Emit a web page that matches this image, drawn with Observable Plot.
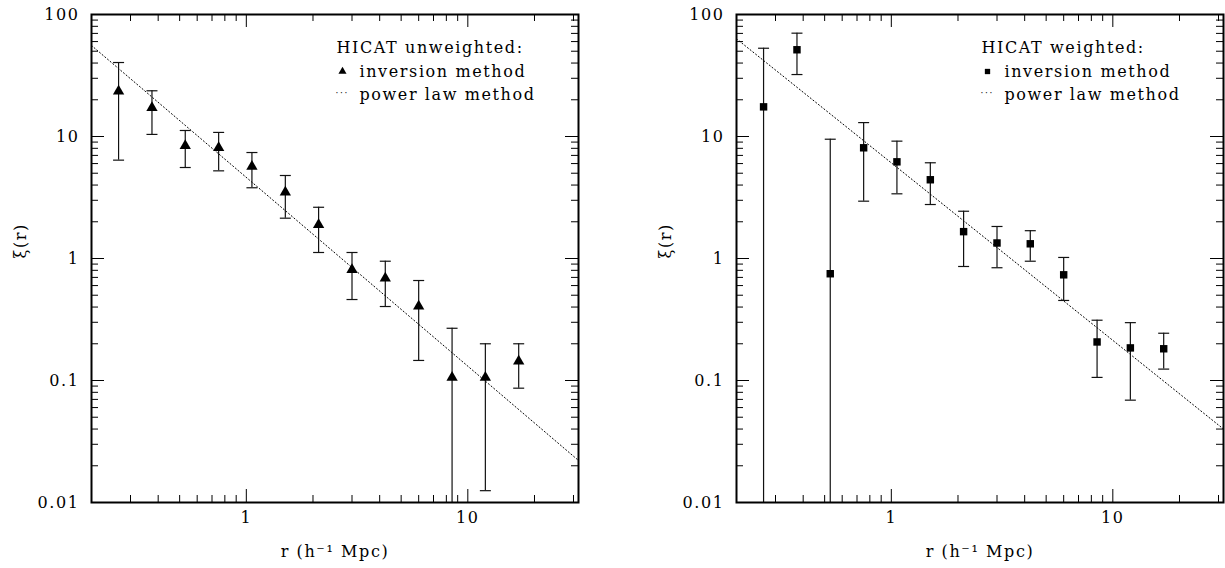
<!DOCTYPE html>
<html><head><meta charset="utf-8">
<script src="https://cdn.jsdelivr.net/npm/d3@7"></script>
<script src="https://cdn.jsdelivr.net/npm/@observablehq/plot@0.6"></script>
<style>
body{margin:0;background:#fff;}
#wrap{display:flex;width:1225px;height:568px;overflow:hidden;}
#wrap svg{display:block;}
</style></head><body><div id="wrap"></div>
<script>
// separation r (h^-1 Mpc)
const r = [0.265, 0.375, 0.53, 0.75, 1.06, 1.5, 2.12, 3.0, 4.24, 6.0, 8.49, 12.0, 16.97];

// HICAT unweighted (inversion method)
const xiUnw = [23.5, 17.2, 8.4, 8.1, 5.68, 3.49, 1.89, 0.808, 0.69, 0.406, 0.106, 0.106, 0.144];
const hiUnw = [40.4, 23.7, 11.2, 10.8, 7.39, 4.79, 2.63, 1.12, 0.95, 0.66, 0.268, 0.2, 0.2];
const loUnw = [6.4, 10.4, 5.57, 5.23, 3.8, 2.14, 1.12, 0.461, 0.404, 0.146, 0.001, 0.0125, 0.0865];

// HICAT weighted (inversion method)
const xiW = [17.5, 51.4, 0.75, 8.08, 6.2, 4.42, 1.66, 1.34, 1.32, 0.735, 0.207, 0.185, 0.182];
const hiW = [52.9, 70.3, 9.5, 13.0, 9.16, 6.09, 2.44, 1.83, 1.69, 1.02, 0.312, 0.298, 0.244];
const loW = [0.001, 32.2, 0.001, 2.95, 3.39, 2.77, 0.86, 0.84, 0.95, 0.453, 0.106, 0.069, 0.124];

// power law method lines (end points)
const powerR = [0.2, 31.6];
const powerUnw = [55.7, 0.0221];
const powerW = [63.2, 0.040];

// axes
const xDomain = [0.2, 31.6];
const yDomain = [0.01, 100];
const xMajorTicks = [1, 10];
const xTickLabels = ["1", "10"];
const yMajorTicks = [0.01, 0.1, 1, 10, 100];
const yTickLabels = ["0.01", "0.1", "1", "10", "100"];
const xMinorTicks = [0.3, 0.4, 0.5, 0.6, 0.7, 0.8, 0.9, 2, 3, 4, 5, 6, 7, 8, 9, 20, 30];
const yMinorTicks = [0.02,0.03,0.04,0.05,0.06,0.07,0.08,0.09, 0.2,0.3,0.4,0.5,0.6,0.7,0.8,0.9,
                     2,3,4,5,6,7,8,9, 20,30,40,50,60,70,80,90];

const xLabel = "r (h\u207B\u00B9 Mpc)";
const yLabel = "\u03BE(r)";
const legendMethods = ["inversion method", "power law method"];

const capSymbol = {
  draw(ctx, size) {
    const w = Math.sqrt(size / Math.PI);
    ctx.moveTo(-w, 0); ctx.lineTo(w, 0);
  }
};

const H = 568, MT = 14, MB = 66, PW = 487, PH = H - MT - MB;

function panel({width, marginLeft, marginRight, xi, hi, lo, power, symbol, title}) {
  const pts = r.map((d, i) => ({r: d, xi: xi[i], hi: hi[i], lo: lo[i]}));
  const line = powerR.map((d, i) => ({r: d, xi: power[i]}));
  return Plot.plot({
    width, height: H, marginLeft, marginRight, marginTop: MT, marginBottom: MB,
    style: {fontFamily: "'DejaVu Serif', serif", fontSize: "16px", letterSpacing: "1.6px", color: "black", background: "white"},
    x: {type: "log", domain: xDomain},
    y: {type: "log", domain: yDomain},
    marks: [
      // ticks (inward, all four sides)
      Plot.tickY(yMajorTicks, {y: d => d, insetRight: PW - 13, stroke: "black"}),
      Plot.tickY(yMajorTicks, {y: d => d, insetLeft: PW - 13, stroke: "black"}),
      Plot.tickY(yMinorTicks, {y: d => d, insetRight: PW - 7, stroke: "black"}),
      Plot.tickY(yMinorTicks, {y: d => d, insetLeft: PW - 7, stroke: "black"}),
      Plot.tickX(xMajorTicks, {x: d => d, insetBottom: PH - 13, stroke: "black"}),
      Plot.tickX(xMajorTicks, {x: d => d, insetTop: PH - 13, stroke: "black"}),
      Plot.tickX(xMinorTicks, {x: d => d, insetBottom: PH - 7, stroke: "black"}),
      Plot.tickX(xMinorTicks, {x: d => d, insetTop: PH - 7, stroke: "black"}),
      Plot.axisX({ticks: xMajorTicks, tickSize: 0, tickPadding: 9, label: null,
                  tickFormat: d => xTickLabels[xMajorTicks.indexOf(d)]}),
      Plot.axisY({ticks: yMajorTicks, tickSize: 0, tickPadding: 12, label: null,
                  tickFormat: d => yTickLabels[yMajorTicks.indexOf(d)]}),
      // power law
      Plot.line(line, {x: "r", y: "xi", stroke: "black", strokeWidth: 1, strokeDasharray: "1.1,2.4", clip: true}),
      // error bars
      Plot.ruleX(pts, {x: "r", y1: "lo", y2: "hi", stroke: "#111", strokeWidth: 1.2, clip: true}),
      Plot.dot(pts, {x: "r", y: "hi", symbol: capSymbol, r: 5.5, stroke: "#111", strokeWidth: 1.2, fill: "none"}),
      Plot.dot(pts.filter(d => d.lo >= yDomain[0]), {x: "r", y: "lo", symbol: capSymbol, r: 5.5, stroke: "#111", strokeWidth: 1.2, fill: "none"}),
      Plot.dot(pts, {x: "r", y: "xi", symbol, r: 4.2, fill: "black", stroke: "none"}),
      // legend
      Plot.text([title], {text: d => d, frameAnchor: "top-left", dx: 245, dy: 33, textAnchor: "start", lineAnchor: "middle"}),
      Plot.dot([0], {frameAnchor: "top-left", dx: 251, dy: 57, symbol, r: 3, fill: "black", stroke: "none"}),
      Plot.text([legendMethods[0]], {text: d => d, frameAnchor: "top-left", dx: 268, dy: 57, textAnchor: "start", lineAnchor: "middle"}),
      Plot.text(["\u00B7\u00B7\u00B7"], {text: d => d, frameAnchor: "top-left", dx: 244, dy: 79, textAnchor: "start", lineAnchor: "middle", fontSize: 9, letterSpacing: "0px"}),
      Plot.text([legendMethods[1]], {text: d => d, frameAnchor: "top-left", dx: 268, dy: 80, textAnchor: "start", lineAnchor: "middle"}),
      // axis labels
      Plot.text([xLabel], {text: d => d, frameAnchor: "bottom", dy: 49, lineAnchor: "middle"}),
      Plot.text([yLabel], {text: d => d, frameAnchor: "left", dx: -71, rotate: -90, lineAnchor: "middle"}),
      Plot.frame({stroke: "black", strokeWidth: 2})
    ]
  });
}

const wrap = document.getElementById("wrap");
wrap.append(panel({width: 612, marginLeft: 91, marginRight: 34, xi: xiUnw, hi: hiUnw, lo: loUnw, power: powerUnw, symbol: "triangle", title: "HICAT unweighted:"}));
wrap.append(panel({width: 613, marginLeft: 124, marginRight: 2, xi: xiW, hi: hiW, lo: loW, power: powerW, symbol: "square", title: "HICAT weighted:"}));
</script></body></html>
